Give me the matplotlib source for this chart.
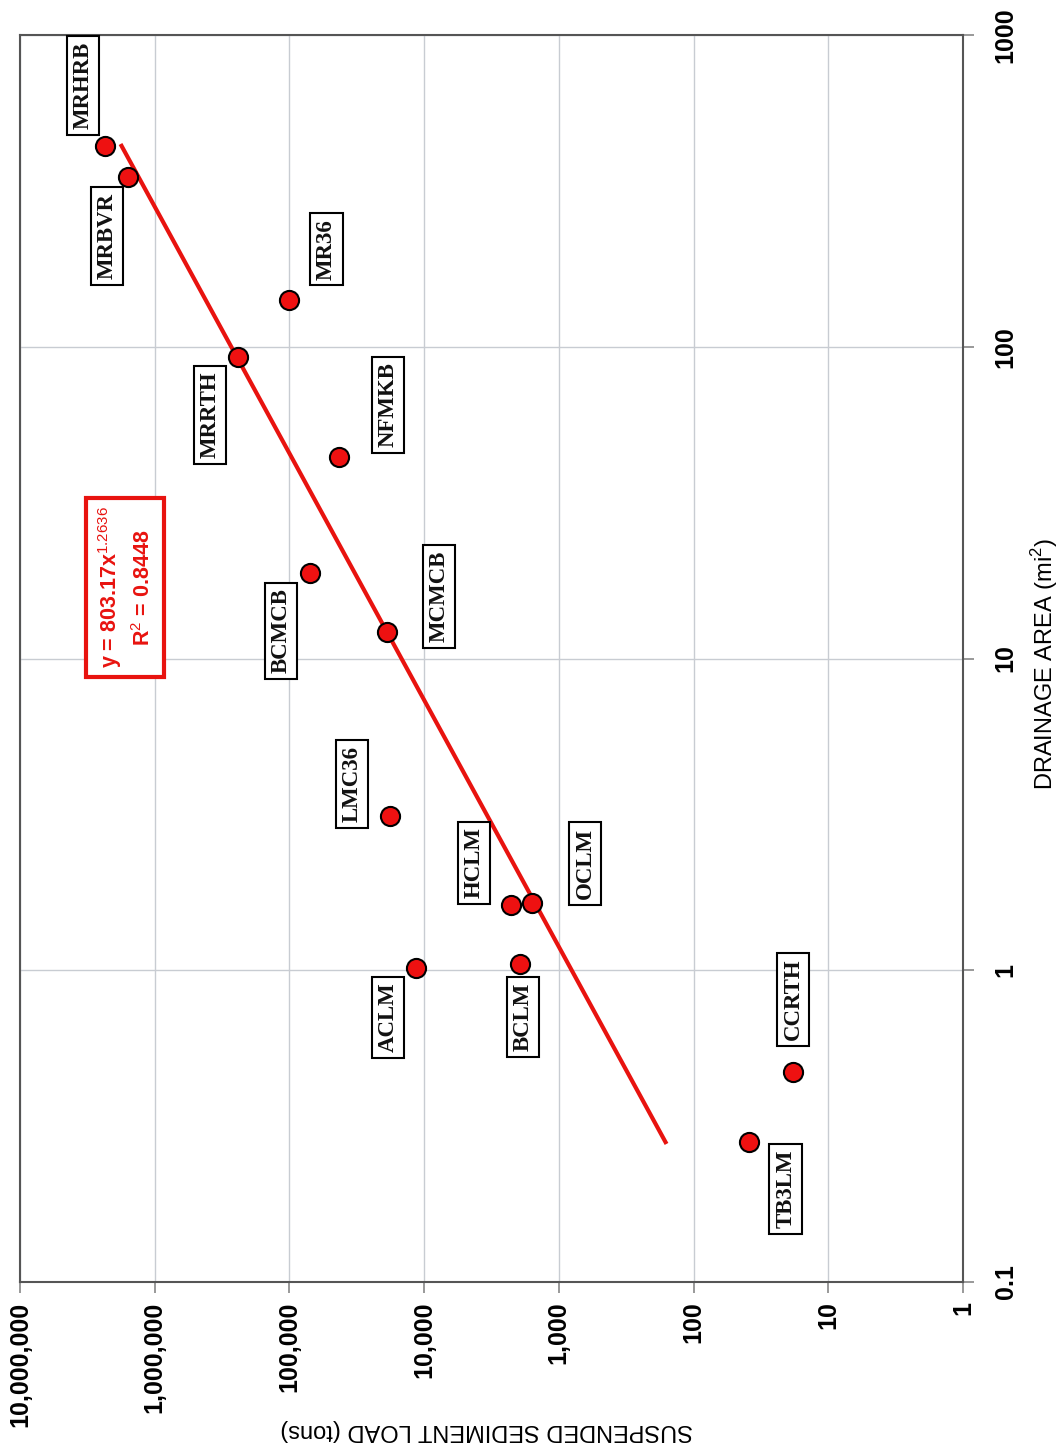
import matplotlib
matplotlib.use("Agg")
import matplotlib.pyplot as plt
import numpy as np
from matplotlib.ticker import FixedLocator, FuncFormatter, NullLocator

plt.rcParams['mathtext.fontset'] = 'custom'
plt.rcParams['mathtext.rm'] = 'Liberation Sans'
plt.rcParams['mathtext.bf'] = 'Liberation Sans:bold'

# site data
sites = ['MRHRB', 'MRBVR', 'MR36', 'MRRTH', 'NFMKB', 'BCMCB', 'MCMCB',
         'LMC36', 'HCLM', 'OCLM', 'ACLM', 'BCLM', 'CCRTH', 'TB3LM']
area = [441, 350, 141, 93, 44.3, 18.8, 12.2, 3.12, 1.62, 1.64, 1.02, 1.05, 0.471, 0.281]
load = [2.34e6, 1.58e6, 1.0e5, 2.41e5, 42900, 70300, 18800, 17900, 2260, 1580,
        11500, 1940, 18.2, 39]
# label box offsets from each point (pixels)
label_dx = [-22, -21, 37, -28, 49, -29, 52, -38, -37, 53, -28, 3, 0, 37]
label_dy = [60, -59, 51, -58, 52, -58, 35, 32, 42, 40, -50, -53, 73, -47]

# power trendline y = a * x^b
coef_a = 803.17
coef_b = 1.2636
r2 = 0.8448

load_ticks = [1e7, 1e6, 1e5, 1e4, 1e3, 1e2, 10, 1]
area_ticks = [0.1, 1, 10, 100, 1000]

fig = plt.figure(figsize=(10.63, 14.48), dpi=100)
ax = fig.add_axes([20 / 1063, 1 - 1282 / 1448, 943 / 1063, 1247 / 1448])

ax.set_xscale('log')
ax.set_yscale('log')
ax.set_xlim(1e7, 1)
ax.set_ylim(0.1, 1000)

ax.grid(True, which='major', color='#c8ccd2', linewidth=1.0)
ax.set_axisbelow(True)

# trendline over the data range
a_line = np.logspace(np.log10(min(area)), np.log10(max(area)), 100)
ax.plot(coef_a * a_line ** coef_b, a_line, color='#e8130f', linewidth=3, zorder=2)

ax.scatter(load, area, s=190, color='#ee1111', edgecolor='black', linewidth=1.5, zorder=3)

for name, x, y, dx, dy in zip(sites, load, area, label_dx, label_dy):
    ax.annotate(name, (x, y), xytext=(dx, dy), textcoords='offset pixels',
                rotation=90, ha='center', va='center', fontsize=16.5,
                fontfamily='Liberation Serif', fontweight='bold', color='#111111',
                bbox=dict(boxstyle='square,pad=0.25', fc='white', ec='black', lw=1.5),
                zorder=4)

eq = f'y = {coef_a}x$^{{{coef_b}}}$\nR$^{{2}}$ = {r2}'
ax.text(0.112, 0.557, eq, transform=ax.transAxes, rotation=90, ha='center', va='center',
        multialignment='center', fontsize=15.5, fontfamily='Liberation Sans',
        fontweight='bold', color='#e8130f', linespacing=1.45,
        bbox=dict(boxstyle='square,pad=0.4', fc='white', ec='#e8130f', lw=3), zorder=4)

ax.xaxis.set_major_locator(FixedLocator(load_ticks))
ax.xaxis.set_minor_locator(NullLocator())
ax.xaxis.set_major_formatter(FuncFormatter(lambda v, p: f"{v:,.0f}"))
ax.yaxis.set_major_locator(FixedLocator(area_ticks))
ax.yaxis.set_minor_locator(NullLocator())
ax.yaxis.set_major_formatter(FuncFormatter(lambda v, p: f"{v:g}"))

ax.yaxis.tick_right()
ax.tick_params(axis='x', direction='out', length=8, width=1.2, color='#888888', pad=6,
               labelrotation=90, labelsize=18)
ax.tick_params(axis='y', direction='out', length=8, width=1.2, color='#888888', pad=14,
               labelrotation=90, labelsize=18)
for lab in ax.get_xticklabels() + ax.get_yticklabels():
    lab.set_fontfamily('Liberation Sans')
    lab.set_fontweight('bold')
for lab in ax.get_yticklabels():
    lab.set_va('center')

for side in ['left', 'right', 'top', 'bottom']:
    ax.spines[side].set_color('#555555')
    ax.spines[side].set_linewidth(1.5)

ax.set_xlabel('SUSPENDED SEDIMENT LOAD (tons)', fontsize=17, fontfamily='Liberation Sans',
              rotation=180, va='center', ha='center')
ax.xaxis.set_label_coords(0.495, -0.119)
ax.yaxis.set_label_position('right')
ax.set_ylabel('DRAINAGE AREA (mi$^2$)', fontsize=17, fontfamily='Liberation Sans',
              rotation=90, va='center', ha='center')
ax.yaxis.set_label_coords(1.087, 0.496)

fig.savefig('out.png', dpi=100)
